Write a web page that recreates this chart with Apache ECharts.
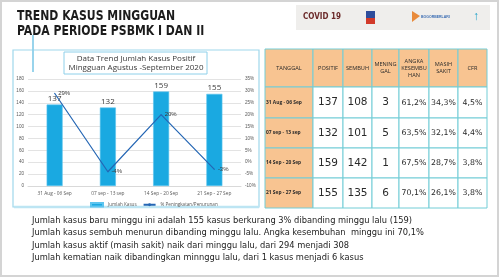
<!DOCTYPE html>
<html><head><meta charset="utf-8">
<script src="https://cdn.jsdelivr.net/npm/echarts/dist/echarts.min.js"></script>
<style>html,body{margin:0;padding:0;background:#fff}#c{width:500px;height:277px}</style>
</head><body><div id="c"></div>
<script>
// ---- data ----
const categories = ['31 Aug - 06 Sep', '07 sep - 13 sep', '14 Sep - 20 Sep', '21 Sep - 27 Sep'];
const positif = [137, 132, 159, 155];
const pctChange = [29, -4, 20, -3];
const sembuh = [108, 101, 142, 135];
const meninggal = [3, 5, 1, 6];
const angkaKesembuhan = ['61,2%', '63,5%', '67,5%', '70,1%'];
const masihSakit = ['34,3%', '32,1%', '28,7%', '26,1%'];
const cfr = ['4,5%', '4,4%', '3,8%', '3,8%'];
const tableHeaders = ['TANGGAL', 'POSITIF', 'SEMBUH', 'MENING\nGAL', 'ANGKA\nKESEMBU\nHAN', 'MASIH\nSAKIT', 'CFR'];
const tableDates = ['31 Aug - 06 Sep', '07 sep - 13 sep', '14 Sep - 20 Sep', '21 Sep - 27 Sep'];
const leftTicks = [0, 180, 20];
const rightTicks = [-10, 35, 5];
const titleLines = ['TREND KASUS MINGGUAN', 'PADA PERIODE PSBMK I DAN II'];
const chartTitle = 'Data Trend Jumlah Kasus Positif\nMingguan Agustus -September 2020';
const seriesNames = ['Jumlah Kasus', '% Peningkatan/Penurunan'];
const notes = [
  'Jumlah kasus baru minggu ini adalah 155 kasus berkurang 3% dibanding minggu lalu (159)',
  'Jumlah kasus sembuh menurun dibanding minggu lalu. Angka kesembuhan  minggu ini 70,1%',
  'Jumlah kasus aktif (masih sakit) naik dari minggu lalu, dari 294 menjadi 308',
  'Jumlah kematian naik dibandingkan minnggu lalu, dari 1 kasus menjadi 6 kasus'
];

// ---- layout ----
const colX = [265, 313, 343, 372, 399, 429, 458, 487];
const rowY = [49, 87, 118, 148, 178, 208];
const orange = '#F8C491';
const border = '#72CDD6';
const g = [];

// slide frame
g.push({type:'rect', shape:{x:1, y:1, width:497, height:275}, style:{fill:'none', stroke:'#d4d4d4', lineWidth:2}, z:1});
// title
titleLines.forEach((t, i) => g.push({type:'text', x:17, y:16.5 + i*14.5, scaleY:1.2, style:{text:t, font:'bold 12.1px "DejaVu Sans Condensed"', fill:'#1c1c1c', textVerticalAlign:'middle'}, z:5}));
// logo band
g.push({type:'rect', shape:{x:296, y:5, width:194, height:25}, style:{fill:'#efeeec'}, z:2});
g.push({type:'text', x:322, y:17, style:{text:'COVID 19', font:'bold 8px "DejaVu Sans Condensed"', fill:'#6b2a2a', textAlign:'center', textVerticalAlign:'middle'}, z:3});
g.push({type:'rect', shape:{x:366, y:11, width:9, height:13}, style:{fill:'#2e4d9c'}, z:3});
g.push({type:'rect', shape:{x:366, y:18, width:9, height:6}, style:{fill:'#d23a2a'}, z:3});
g.push({type:'polygon', shape:{points:[[412,11],[420,16],[412,22]]}, style:{fill:'#e98a3a'}, z:3});
g.push({type:'text', x:421, y:17, style:{text:'BOGORBERLARI', font:'bold 3.5px sans-serif', fill:'#3b6db3', textVerticalAlign:'middle'}, z:3});
g.push({type:'text', x:476, y:17, style:{text:'\u2191', font:'12px sans-serif', fill:'#1aa0c8', textAlign:'center', textVerticalAlign:'middle'}, z:3});

// chart frame
g.push({type:'rect', shape:{x:13, y:50, width:246, height:157}, style:{fill:'#fff', stroke:'#9fd7ec', lineWidth:1.2}, z:0});
g.push({type:'line', shape:{x1:14, y1:207, x2:259, y2:207}, style:{stroke:'#bde5f3', lineWidth:2.5}, z:1});
g.push({type:'line', shape:{x1:33, y1:35, x2:33, y2:72}, style:{stroke:'#8ed0ea', lineWidth:1.8}, z:4});
g.push({type:'rect', shape:{x:64, y:52, width:143, height:22}, style:{fill:'#fff', stroke:'#8ed0ea', lineWidth:1}, z:4});
g.push({type:'text', x:136, y:63, style:{text:chartTitle, font:'8px "Open Sans"', fill:'#3a3a3a', textAlign:'center', textVerticalAlign:'middle', lineHeight:9.5}, z:5});

// table
for (let r = 0; r < 5; r++) {
  for (let c = 0; c < 7; c++) {
    const x = colX[c], y = rowY[r], w = colX[c+1]-colX[c], h = rowY[r+1]-rowY[r];
    const fill = (r === 0 || c === 0) ? orange : '#fff';
    g.push({type:'rect', shape:{x, y, width:w, height:h}, style:{fill, stroke:border, lineWidth:1}, z:2});
    let text, font, tx = x + w/2, align = 'center';
    if (r === 0) { text = tableHeaders[c]; font = '5.6px "Open Sans"'; }
    else {
      const i = r - 1;
      if (c === 0) { text = tableDates[i]; font = 'bold 4.9px "Open Sans"'; tx = x + 1; align = 'left'; }
      else if (c === 1) { text = String(positif[i]); font = '10.5px "DejaVu Sans"'; }
      else if (c === 2) { text = String(sembuh[i]); font = '10.5px "DejaVu Sans"'; }
      else if (c === 3) { text = String(meninggal[i]); font = '10.5px "DejaVu Sans"'; }
      else if (c === 4) { text = angkaKesembuhan[i]; font = '7.8px "DejaVu Sans"'; }
      else if (c === 5) { text = masihSakit[i]; font = '7.8px "DejaVu Sans"'; }
      else { text = cfr[i]; font = '7.8px "DejaVu Sans"'; }
    }
    g.push({type:'text', x:tx, y:y + h/2, style:{text, font, fill:'#2a2a2a', textAlign:align, textVerticalAlign:'middle', lineHeight:7}, z:3});
  }
}
// notes
notes.forEach((t, i) => g.push({type:'text', x:32, y:221 + i*12.2, style:{text:t, font:'8.3px "DejaVu Sans"', fill:'#1c1c1c', textVerticalAlign:'middle'}, z:5}));

const chart = echarts.init(document.getElementById('c'));
chart.setOption({
  animation:false,
  backgroundColor:'#fff',
  graphic:g,
  grid:{left:28, right:259, top:79, bottom:91, containLabel:false},
  legend:{top:197, left:85, itemWidth:12, itemHeight:3.5, itemGap:6,
    textStyle:{fontSize:4.6, color:'#595959', fontFamily:'"Open Sans"'},
    data:[{name:seriesNames[0], icon:'rect'}, {name:seriesNames[1]}]},
  xAxis:{type:'category', data:categories, axisTick:{show:false},
    axisLine:{lineStyle:{color:'#d9d9d9'}},
    axisLabel:{fontSize:4.8, color:'#595959', margin:5, fontFamily:'"Open Sans"'}},
  yAxis:[
    {type:'value', min:leftTicks[0], max:leftTicks[1], interval:leftTicks[2],
      axisLabel:{fontSize:4.6, color:'#595959', margin:4}, splitLine:{lineStyle:{color:'#dcdcdc', width:0.8}}},
    {type:'value', min:rightTicks[0], max:rightTicks[1], interval:rightTicks[2],
      axisLabel:{fontSize:4.6, color:'#595959', margin:4, formatter:v => v + '%'}, splitLine:{show:false}}
  ],
  series:[
    {name:seriesNames[0], type:'bar', data:positif, barWidth:16, yAxisIndex:0,
      itemStyle:{color:'#1aa9e1', borderColor:'#5cc4ef', borderWidth:0.6},
      label:{show:true, position:'top', distance:2, fontSize:8, color:'#3a3a3a', fontFamily:'"Open Sans"'}},
    {name:seriesNames[1], type:'line', data:pctChange, yAxisIndex:1, symbol:'circle', symbolSize:1,
      lineStyle:{color:'#2466b4', width:1.2}, itemStyle:{color:'#2466b4'},
      label:{show:true, position:'right', distance:3, fontSize:6, color:'#3a3a3a', formatter:p => p.value + '%'}}
  ]
});
</script></body></html>
